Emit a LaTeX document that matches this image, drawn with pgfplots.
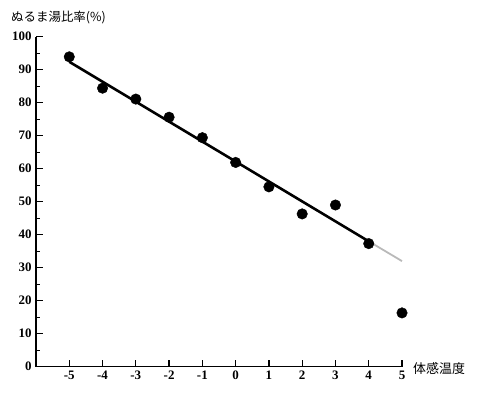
\documentclass[border=0pt]{standalone}
\usepackage{pgfplots}
\pgfplotsset{compat=1.18}
\usepackage{fontspec}
\setmainfont{Liberation Serif}
\newfontfamily\jp{Noto Sans CJK JP}
\begin{document}
\begin{tikzpicture}[x=1bp,y=1bp]
\useasboundingbox (0,0) rectangle (482,398);
\begin{axis}[
  at={(36bp,31.3bp)}, anchor=south west,
  scale only axis, width=366bp, height=330bp,
  xmin=-6, xmax=5, ymin=0, ymax=100,
  axis x line=bottom, axis y line=left,
  axis line style={-, line width=1.3pt},
  xtick={-5,...,5}, ytick={0,10,...,100},
  minor ytick={5,15,...,95},
  tick align=inside,
  major tick length=7bp, minor tick length=4bp,
  tick style={line width=1.2pt, black},
  xticklabel={\textbf{\pgfmathprintnumber{\tick}}},
  yticklabel={\textbf{\pgfmathprintnumber{\tick}}},
  every tick label/.append style={font=\fontsize{13}{13}\selectfont},
  /pgf/number format/assume math mode=true,
  xticklabel style={yshift=-1bp},
  yticklabel style={xshift=-1bp},
  clip=false,
]
\addplot[black, line width=2.6pt] coordinates {(-5,92.4) (4,38.0)};
\addplot[gray!55, line width=1.8pt] coordinates {(4,38.0) (5,32.0)};
\addplot[only marks, mark=*, mark size=5.3pt, black] coordinates {
(-5,93.9) (-4,84.4) (-3,81.1) (-2,75.6) (-1,69.4) (0,61.9)
(1,54.5) (2,46.3) (3,49.0) (4,37.3) (5,16.3)};
\end{axis}
\node[anchor=west, inner sep=0] at (11,381) {\jp\fontsize{12.5}{12.5}\selectfont ぬるま湯比率(\%)};
\node[anchor=west, inner sep=0] at (413,29) {\jp\fontsize{13}{13}\selectfont 体感温度};
\end{tikzpicture}
\end{document}
